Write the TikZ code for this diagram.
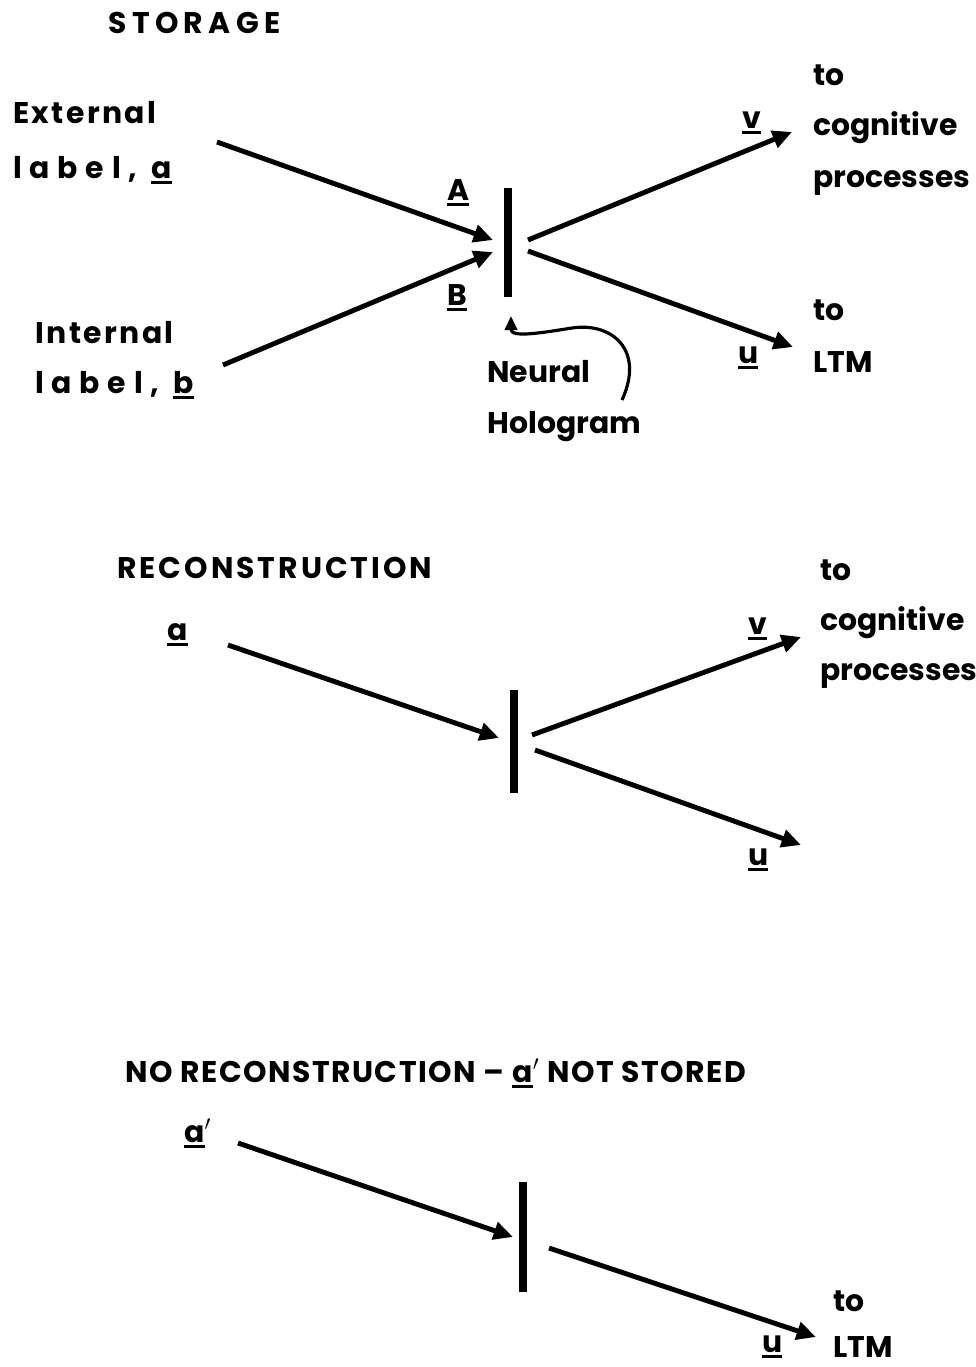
\documentclass[tikz,border=0pt]{standalone}
\usepackage{fontspec}
\setmainfont{Poppins}
\newfontfamily\spaced[LetterSpace=18]{Poppins}
\newfontfamily\wordsp[LetterSpace=8]{Poppins}
\newfontfamily\lblsp[LetterSpace=26]{Poppins}
\newfontfamily\titlesp[LetterSpace=10]{Poppins}
\newfontfamily\titlesn[LetterSpace=5]{Poppins}
\usetikzlibrary{arrows.meta}
\newcommand{\ulbold}[1]{\leavevmode\setbox0\hbox{#1}\rlap{\rule[-0.2em]{\wd0}{0.11em}}\box0}

\begin{document}
\begin{tikzpicture}[x=0.02cm,y=-0.02cm,
  txt/.style={font=\bfseries\fontsize{17}{20}\selectfont, inner sep=0pt, anchor=base west},
  arr/.style={line width=2.8pt, -{Triangle[length=11pt,width=10pt]}},
  holo/.style={line width=4.5pt},
  ]
  \useasboundingbox (0,0) rectangle (976,1367);

  % storage
  \node[txt] (stor) at (108,33) {\spaced STORAGE};
  \node[txt] (ext1) at (13,123) {\wordsp External};
  \node[txt] (ext2) at (13,178) {\lblsp label,\ \ulbold{a}};
  \node[txt] (int1) at (35,343) {\wordsp Internal};
  \node[txt] (int2) at (35,393) {\lblsp label,\ \ulbold{b}};
  \node[txt] (labA) at (447,200) {\ulbold{A}};
  \node[txt] (labB) at (447,305) {\ulbold{B}};
  \node[txt] (labv1) at (742,128) {\ulbold{v}};
  \node[txt] (labu1) at (738,363) {\ulbold{u}};
  \node[txt] (to1) at (813,85) {to};
  \node[txt] (cog1) at (813,135) {cognitive};
  \node[txt] (proc1) at (813,187) {processes};
  \node[txt] (to2) at (813,320) {to};
  \node[txt] (ltm1) at (813,372) {LTM};
  \node[txt] (neur) at (487,382) {Neural};
  \node[txt] (holg) at (487,433) {Hologram};

  \coordinate (bar1t) at (508,188);
  \coordinate (bar1b) at (508,297);
  \coordinate (aS) at (217,142);  \coordinate (aE) at (493,240);
  \coordinate (bS) at (223,365);  \coordinate (bE) at (493,252);
  \coordinate (vS) at (528,240);  \coordinate (vE) at (792,132);
  \coordinate (uS) at (528,251);  \coordinate (uE) at (793,347);
  \coordinate (hS) at (622,400);  \coordinate (hE) at (511,316);

  \draw[holo] (bar1t) -- (bar1b);
  \draw[arr] (aS) -- (aE);
  \draw[arr] (bS) -- (bE);
  \draw[arr] (vS) -- (vE);
  \draw[arr] (uS) -- (uE);
  \draw[line width=1.8pt, -{Triangle[length=8pt,width=7pt]}]
    (hS) .. controls (645,350) and (612,322) .. (572,328)
         .. controls (540,333) and (511,338) .. (hE);

  % reconstruction
  \node[txt] (rec) at (117,578) {\titlesp RECONSTRUCTION};
  \node[txt] (in2) at (167,640) {\ulbold{a}};
  \node[txt] (labv2) at (748,634) {\ulbold{v}};
  \node[txt] (labu2) at (748,865) {\ulbold{u}};
  \node[txt] (to3) at (820,580) {to};
  \node[txt] (cog2) at (820,630) {cognitive};
  \node[txt] (proc2) at (820,680) {processes};

  \coordinate (bar2t) at (514,690);
  \coordinate (bar2b) at (514,793);
  \coordinate (a2S) at (228,645);  \coordinate (a2E) at (499,738);
  \coordinate (v2S) at (532,735);  \coordinate (v2E) at (801,637);
  \coordinate (u2S) at (535,750);  \coordinate (u2E) at (801,845);

  \draw[holo] (bar2t) -- (bar2b);
  \draw[arr] (a2S) -- (a2E);
  \draw[arr] (v2S) -- (v2E);
  \draw[arr] (u2S) -- (u2E);

  % no reconstruction
  \node[txt] (norec) at (125,1082) {\titlesn NO RECONSTRUCTION \textendash\ \ulbold{a}$'$ NOT STORED};
  \node[txt] (in3) at (184,1142) {\ulbold{a}$'$};
  \node[txt] (labu3) at (762,1352) {\ulbold{u}};
  \node[txt] (to4) at (833,1311) {to};
  \node[txt] (ltm2) at (833,1357) {LTM};

  \coordinate (bar3t) at (523,1182);
  \coordinate (bar3b) at (523,1292);
  \coordinate (a3S) at (238,1143);  \coordinate (a3E) at (513,1237);
  \coordinate (u3S) at (549,1248);  \coordinate (u3E) at (816,1337);

  \draw[holo] (bar3t) -- (bar3b);
  \draw[arr] (a3S) -- (a3E);
  \draw[arr] (u3S) -- (u3E);
\end{tikzpicture}
\end{document}
